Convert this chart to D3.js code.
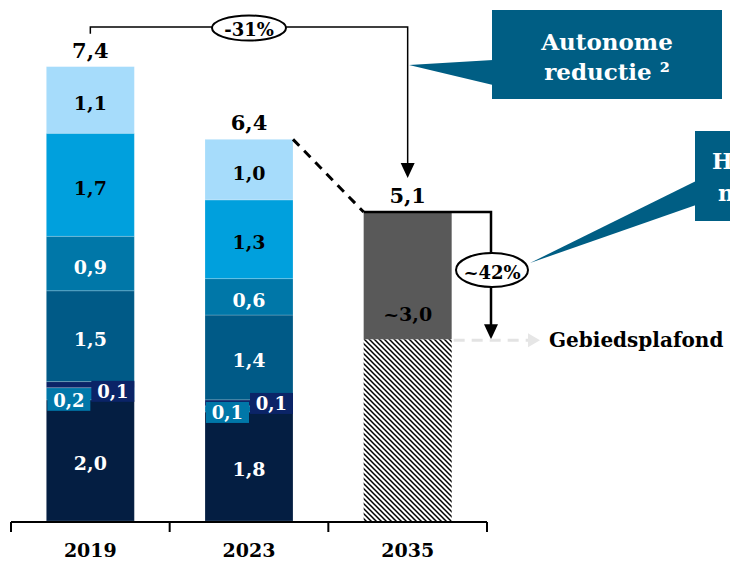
<!DOCTYPE html>
<html>
<head>
<meta charset="utf-8">
<script src="https://cdn.jsdelivr.net/npm/d3@7"></script>
<style>
  body { margin: 0; background: #fff; }
  text { font-family: "DejaVu Serif", Georgia, serif; font-weight: bold; }
</style>
</head>
<body>
<svg id="chart" width="730" height="561"></svg>
<script>
// data
var years = ["2019", "2023", "2035"];
var keys = ["s1", "s2", "s3", "s4", "s5", "s6", "s7"];
var values2019 = [2.0, 0.2, 0.1, 1.5, 0.9, 1.7, 1.1];
var values2023 = [1.8, 0.1, 0.1, 1.4, 0.6, 1.3, 1.0];
var totals = [7.4, 6.4, 5.1];
var values2035 = [3.0, 2.1];          // gebiedsplafond, resterende reductie
var labels2035 = ["", "~3,0"];
var changeLabels = ["-31%", "~42%"];
var calloutTexts = [["Autonome", "reductie \u00b2"], ["Halvering", "nodig \u00b3"]];
var plafondLabel = "Gebiedsplafond";

var colors = ["#041e42", "#0077a8", "#0b2467", "#005a87", "#0077a8", "#00a0dd", "#a6dcfb"];
var textColors = ["#fff", "#fff", "#fff", "#fff", "#fff", "#000", "#000"];
var calloutFill = "#005e84";

var fmt = function(v) { return v.toFixed(1).replace(".", ","); };

var svg = d3.select("#chart");

var x = d3.scaleBand().domain(years).range([11, 487]).padding(0);
var y = d3.scaleLinear().domain([0, 8.6]).range([521, 0]);
var barW = 88;
function barX(yr) { return x(yr) + (x.bandwidth() - barW) / 2; }
function cx(yr) { return x(yr) + x.bandwidth() / 2; }

var defs = svg.append("defs");
var pat = defs.append("pattern")
    .attr("id", "hatch")
    .attr("patternUnits", "userSpaceOnUse")
    .attr("width", 5).attr("height", 5);
pat.append("rect").attr("width", 5).attr("height", 5).attr("fill", "#fff");
pat.append("path")
    .attr("d", "M0,0 L5,5 M-1,4 L1,6 M4,-1 L6,1")
    .attr("stroke", "#000").attr("stroke-width", 1.5);

// stacked bars 2019 / 2023
var rows = [values2019, values2023].map(function(vals, i) {
  var r = { year: years[i] };
  keys.forEach(function(k, j) { r[k] = vals[j]; });
  return r;
});
var series = d3.stack().keys(keys)(rows);

series.forEach(function(s, j) {
  svg.selectAll(".seg" + j).data(s).enter()
    .append("rect")
    .attr("x", function(d) { return barX(d.data.year); })
    .attr("width", barW)
    .attr("y", function(d) { return y(d[1]); })
    .attr("height", function(d) { return y(d[0]) - y(d[1]); })
    .attr("fill", colors[j])
    .attr("stroke", "rgba(255,255,255,0.25)")
    .attr("stroke-width", 0.8);
});

// labels of big segments
series.forEach(function(s, j) {
  if (j === 1 || j === 2) return;
  svg.selectAll(".lab" + j).data(s).enter()
    .append("text")
    .attr("x", function(d) { return cx(d.data.year); })
    .attr("y", function(d) { return (y(d[0]) + y(d[1])) / 2 + 3; })
    .attr("text-anchor", "middle")
    .attr("dominant-baseline", "central")
    .attr("font-size", 19)
    .attr("fill", textColors[j])
    .text(function(d) { return fmt(d[1] - d[0]); });
});

// small segment labels in boxes
[1, 2].forEach(function(j) {
  series[j].forEach(function(d, i) {
    var left = j === 1;
    var base = y(series[1][i][0]);
    var cyy = left ? base : base - 9;
    var bx = left ? barX(d.data.year) + 1 : barX(d.data.year) + barW / 2 + 1;
    var g = svg.append("g");
    g.append("rect")
      .attr("x", bx).attr("y", cyy - 10)
      .attr("width", 43).attr("height", 21)
      .attr("fill", colors[j]);
    g.append("text")
      .attr("x", bx + 21.5).attr("y", cyy + 1)
      .attr("text-anchor", "middle")
      .attr("dominant-baseline", "central")
      .attr("font-size", 18)
      .attr("fill", "#fff")
      .text(fmt(d[1] - d[0]));
  });
});

// 2035 bar
var b35 = [[0, values2035[0]], [values2035[0], values2035[0] + values2035[1]]];
svg.append("rect")
  .attr("x", barX("2035")).attr("width", barW)
  .attr("y", y(b35[0][1])).attr("height", y(b35[0][0]) - y(b35[0][1]))
  .attr("fill", "url(#hatch)");
svg.append("rect")
  .attr("x", barX("2035")).attr("width", barW)
  .attr("y", y(b35[1][1])).attr("height", y(b35[1][0]) - y(b35[1][1]))
  .attr("fill", "#595959");
svg.append("text")
  .attr("x", cx("2035")).attr("y", y(b35[1][0]) - 18)
  .attr("text-anchor", "middle").attr("font-size", 19)
  .attr("fill", "#000").text(labels2035[1]);

// totals
var tops = [d3.sum(values2019), d3.sum(values2023), d3.sum(values2035)];
years.forEach(function(yr, i) {
  svg.append("text")
    .attr("x", cx(yr)).attr("y", y(tops[i]) - 9)
    .attr("text-anchor", "middle").attr("font-size", 21)
    .attr("fill", "#000").text(fmt(totals[i]));
});

// axis
var axisY = 522;
svg.append("line")
  .attr("x1", 11).attr("x2", 487).attr("y1", axisY).attr("y2", axisY)
  .attr("stroke", "#000").attr("stroke-width", 2);
d3.range(years.length + 1).forEach(function(i) {
  var tx = 11 + i * x.step();
  svg.append("line")
    .attr("x1", tx).attr("x2", tx).attr("y1", axisY).attr("y2", axisY + 10)
    .attr("stroke", "#000").attr("stroke-width", 2);
});
svg.selectAll(".tick-label").data(years).enter()
  .append("text")
  .attr("x", function(d) { return cx(d); })
  .attr("y", 557)
  .attr("text-anchor", "middle").attr("font-size", 19)
  .attr("fill", "#000").text(function(d) { return d; });

function arrowDown(ax, tip) {
  svg.append("path")
    .attr("d", "M" + (ax - 7) + "," + (tip - 15) + " L" + (ax + 7) + "," + (tip - 15) + " L" + ax + "," + tip + " Z")
    .attr("fill", "#000");
}

// dashed connector 2023 -> 2035
svg.append("line")
  .attr("x1", barX("2023") + barW).attr("y1", y(tops[1]))
  .attr("x2", barX("2035")).attr("y2", y(tops[2]))
  .attr("stroke", "#000").attr("stroke-width", 3)
  .attr("stroke-dasharray", "9,7");

// -31% bracket
var brY = 27;
var tip1 = y(tops[2]) - 34;
svg.append("path")
  .attr("d", "M" + cx("2019") + "," + (y(tops[0]) - 33) + " V" + brY + " H" + cx("2035") + " V" + (tip1 - 12))
  .attr("fill", "none").attr("stroke", "#000").attr("stroke-width", 1.5);
arrowDown(cx("2035"), tip1);
svg.append("ellipse")
  .attr("cx", 249).attr("cy", 28).attr("rx", 37).attr("ry", 12.5)
  .attr("fill", "#fff").attr("stroke", "#000").attr("stroke-width", 2);
svg.append("text")
  .attr("x", 249).attr("y", 29).attr("dominant-baseline", "central")
  .attr("text-anchor", "middle").attr("font-size", 18)
  .text(changeLabels[0]);

// ~42% bracket
var rx2 = 491;
var tip2 = y(values2035[0]);
svg.append("path")
  .attr("d", "M" + barX("2035") + "," + y(tops[2]) + " H" + rx2 + " V" + (tip2 - 12))
  .attr("fill", "none").attr("stroke", "#000").attr("stroke-width", 2.5);
arrowDown(rx2, tip2);

// callout 2 (behind ellipse), cut off at the right edge as in the source
svg.append("path")
  .attr("d", "M530,263 L696,181 L696,205 Z").attr("fill", calloutFill);
svg.append("rect")
  .attr("x", 695).attr("y", 131).attr("width", 240).attr("height", 90)
  .attr("fill", calloutFill);
calloutTexts[1].forEach(function(t, i) {
  svg.append("text")
    .attr("x", 712 + i * 6).attr("y", 169 + i * 32)
    .attr("font-size", 22).attr("fill", "#fff").text(t);
});

svg.append("ellipse")
  .attr("cx", 492).attr("cy", 270).attr("rx", 36).attr("ry", 17)
  .attr("fill", "#fff").attr("stroke", "#000").attr("stroke-width", 2);
svg.append("text")
  .attr("x", 492).attr("y", 272).attr("dominant-baseline", "central")
  .attr("text-anchor", "middle").attr("font-size", 18)
  .text(changeLabels[1]);

// gebiedsplafond
var gy = y(values2035[0]) + 1;
svg.append("line")
  .attr("x1", barX("2035") + barW + 2).attr("x2", 530)
  .attr("y1", gy).attr("y2", gy)
  .attr("stroke", "#e3e3e3").attr("stroke-width", 3)
  .attr("stroke-dasharray", "11,7");
svg.append("path")
  .attr("d", "M528," + (gy - 7) + " L540," + gy + " L528," + (gy + 7) + " Z")
  .attr("fill", "#e6e6e6");
svg.append("text")
  .attr("x", 549).attr("y", gy + 7)
  .attr("font-size", 20).attr("fill", "#000").text(plafondLabel);

// callout 1
svg.append("path")
  .attr("d", "M409,65 L493,60 L493,85 Z").attr("fill", calloutFill);
svg.append("rect")
  .attr("x", 492).attr("y", 10).attr("width", 230).attr("height", 89)
  .attr("fill", calloutFill);
calloutTexts[0].forEach(function(t, i) {
  svg.append("text")
    .attr("x", 607).attr("y", 50 + i * 30)
    .attr("text-anchor", "middle")
    .attr("font-size", 23).attr("fill", "#fff").text(t);
});
</script>
</body>
</html>
